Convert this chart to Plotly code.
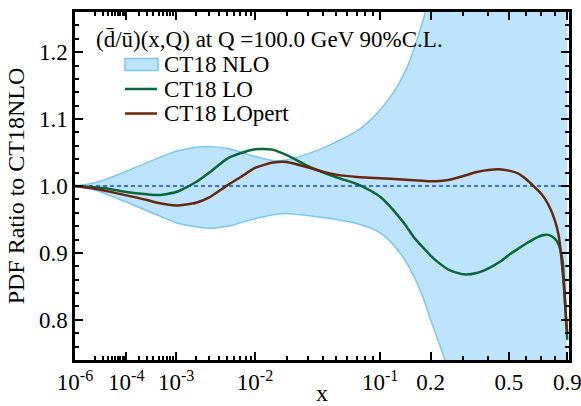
import numpy as np
import plotly.graph_objects as go

# momentum fraction x at which the ratios are tabulated
x_vals = [1e-6, 1e-5, 3e-5, 1e-4, 3e-4, 5e-4, 1e-3, 2e-3, 3e-3, 5e-3, 7e-3,
          0.01, 0.015, 0.02, 0.03, 0.04, 0.05, 0.07, 0.085, 0.1, 0.115, 0.13,
          0.145, 0.16, 0.18, 0.2, 0.225, 0.25, 0.3, 0.35, 0.4, 0.45, 0.5,
          0.55, 0.6, 0.65, 0.7, 0.75, 0.8, 0.83, 0.86, 0.88, 0.89, 0.9]

# CT18 NLO 90% C.L. band, as a ratio to the CT18 NLO central fit
nlo_upper = [1.000, 1.005, 1.011, 1.022, 1.035, 1.042, 1.052, 1.058, 1.059,
             1.056, 1.051, 1.044, 1.038, 1.039, 1.048, 1.057, 1.066, 1.082,
             1.097, 1.114, 1.132, 1.152, 1.175, 1.203, 1.245, 1.290, 1.350,
             1.410, 1.48, 1.52, 1.55, 1.58, 1.60, 1.62, 1.64, 1.66, 1.68,
             1.70, 1.72, 1.73, 1.74, 1.75, 1.75, 1.75]
nlo_lower = [1.000, 0.994, 0.987, 0.976, 0.963, 0.956, 0.945, 0.939, 0.937,
             0.940, 0.945, 0.951, 0.957, 0.959, 0.956, 0.953, 0.950, 0.944,
             0.938, 0.930, 0.918, 0.903, 0.886, 0.866, 0.836, 0.800, 0.762,
             0.725, 0.66, 0.62, 0.59, 0.56, 0.54, 0.52, 0.50, 0.48, 0.46,
             0.44, 0.42, 0.41, 0.40, 0.39, 0.39, 0.39]

# CT18 LO and CT18 LOpert ratios to CT18 NLO
lo_ratio = [1.000, 0.998, 0.996, 0.991, 0.9875, 0.9865, 0.991, 1.006, 1.020,
            1.041, 1.049, 1.055, 1.054, 1.046, 1.030, 1.020, 1.013, 1.003,
            0.994, 0.984, 0.970, 0.955, 0.940, 0.924, 0.909, 0.896, 0.884,
            0.875, 0.868, 0.870, 0.877, 0.886, 0.897, 0.906, 0.914, 0.921,
            0.926, 0.927, 0.921, 0.912, 0.889, 0.830, 0.800, 0.770]
lopert_ratio = [1.000, 0.996, 0.992, 0.986, 0.979, 0.9745, 0.971, 0.975,
                0.983, 1.001, 1.013, 1.027, 1.035, 1.036, 1.028, 1.021,
                1.017, 1.0135, 1.0125, 1.0115, 1.0108, 1.010, 1.0092, 1.0085,
                1.0078, 1.007, 1.0075, 1.009, 1.015, 1.021, 1.024, 1.025,
                1.023, 1.019, 1.010, 0.999, 0.988, 0.972, 0.948, 0.925,
                0.875, 0.830, 0.800, 0.780]

ref_ratio = 1.0

x_tick_vals = [1e-6, 1e-4, 1e-3, 1e-2, 0.1, 0.2, 0.5, 0.9]
x_tick_text = ["10<sup>-6</sup>", "10<sup>-4</sup>", "10<sup>-3</sup>",
               "10<sup>-2</sup>", "10<sup>-1</sup>", "0.2", "0.5", "0.9"]
x_minor_vals = ([1e-5] + [k * 1e-5 for k in range(2, 10)]
                + [k * 1e-4 for k in range(2, 10)]
                + [k * 1e-3 for k in range(2, 10)]
                + [k * 1e-2 for k in range(2, 10)]
                + [0.3, 0.4, 0.6, 0.7, 0.8])
x_limits = [1e-6, 0.915]

y_tick_vals = [0.8, 0.9, 1.0, 1.1, 1.2]
y_tick_text = ["0.8", "0.9", "1.0", "1.1", "1.2"]
y_minor_vals = [round(0.74 + 0.02 * k, 2) for k in range(27)]
y_limits = [0.74, 1.26]

series_names = ["CT18 NLO", "CT18 LO", "CT18 LOpert"]
title_text = "(d\u0304/u\u0304)(x,Q) at Q =100.0 GeV 90%C.L."

# x axis uses an x^0.2 scale
POW = 0.2


def xs(v):
    return np.asarray(v, dtype=float) ** POW


FONT = "Liberation Serif"
BAND_FILL = "rgb(190,228,253)"
BAND_EDGE = "rgb(122,198,246)"
LO_COLOR = "rgb(8,104,56)"
LOPERT_COLOR = "rgb(104,38,10)"
REF_COLOR = "rgb(60,110,230)"

fig = go.Figure()

fig.add_trace(go.Scatter(
    x=xs(x_vals), y=nlo_lower, mode="lines",
    line=dict(color=BAND_EDGE, width=1.5, shape="spline", smoothing=0.8),
    showlegend=False, hoverinfo="skip"))
fig.add_trace(go.Scatter(
    x=xs(x_vals), y=nlo_upper, mode="lines", fill="tonexty",
    fillcolor=BAND_FILL,
    line=dict(color=BAND_EDGE, width=1.5, shape="spline", smoothing=0.8),
    name=series_names[0], showlegend=False))

fig.add_trace(go.Scatter(
    x=xs(x_limits), y=[ref_ratio, ref_ratio], mode="lines",
    line=dict(color=REF_COLOR, width=2, dash="4px,3px"),
    showlegend=False, hoverinfo="skip"))

fig.add_trace(go.Scatter(
    x=xs(x_vals), y=lo_ratio, mode="lines", name=series_names[1],
    line=dict(color=LO_COLOR, width=2.5, shape="spline", smoothing=0.6),
    showlegend=False))
fig.add_trace(go.Scatter(
    x=xs(x_vals), y=lopert_ratio, mode="lines", name=series_names[2],
    line=dict(color=LOPERT_COLOR, width=2.5, shape="spline", smoothing=0.6),
    showlegend=False))

# plot-area geometry (pixels) used to place the key
W, H = 581, 406
ML, MR, MT, MB = 75, 12, 12, 46
PW, PH = W - ML - MR, H - MT - MB


def px(xp):
    return (xp - ML) / PW


def py(yp):
    return (H - MB - yp) / PH


# key: band swatch, two line swatches and their labels
shapes = [
    dict(type="rect", xref="paper", yref="paper",
         x0=px(125), x1=px(158), y0=py(70.5), y1=py(58.5),
         fillcolor=BAND_FILL, line=dict(color=BAND_EDGE, width=1.5)),
    dict(type="line", xref="paper", yref="paper",
         x0=px(125), x1=px(157), y0=py(89), y1=py(89),
         line=dict(color=LO_COLOR, width=2.5)),
    dict(type="line", xref="paper", yref="paper",
         x0=px(125), x1=px(157), y0=py(113.5), y1=py(113.5),
         line=dict(color=LOPERT_COLOR, width=2.5)),
]
annotations = [
    dict(text=title_text, xref="paper", yref="paper", x=px(94), y=py(39),
         xanchor="left", yanchor="middle", showarrow=False,
         font=dict(family=FONT, size=23, color="black")),
]
for name, yrow in zip(series_names, [64.5, 89, 113.5]):
    annotations.append(dict(
        text=name, xref="paper", yref="paper", x=px(162), y=py(yrow),
        xanchor="left", yanchor="middle", showarrow=False,
        font=dict(family=FONT, size=23, color="black")))

axis_common = dict(
    showline=True, linecolor="black", linewidth=2.5, mirror="ticks",
    ticks="inside", ticklen=8, tickwidth=2, tickcolor="black",
    showgrid=False, zeroline=False, automargin=False,
    ticklabeloverflow="allow",
    tickfont=dict(family=FONT, size=23, color="black"),
)

fig.update_layout(
    width=W, height=H,
    margin=dict(l=ML, r=MR, t=MT, b=MB),
    paper_bgcolor="white", plot_bgcolor="white",
    showlegend=False,
    shapes=shapes, annotations=annotations,
    xaxis=dict(
        range=list(xs(x_limits)),
        tickmode="array", tickvals=list(xs(x_tick_vals)), ticktext=x_tick_text,
        minor=dict(tickmode="array", tickvals=list(xs(x_minor_vals)),
                   ticks="inside", ticklen=4, tickwidth=1.5,
                   tickcolor="black"),
        title=dict(text="x", font=dict(family=FONT, size=24, color="black"),
                   standoff=0),
        **axis_common),
    yaxis=dict(
        range=y_limits,
        tickmode="array", tickvals=y_tick_vals, ticktext=y_tick_text,
        minor=dict(tickmode="array", tickvals=y_minor_vals,
                   ticks="inside", ticklen=4, tickwidth=1.5,
                   tickcolor="black"),
        title=dict(text="PDF Ratio to CT18NLO",
                   font=dict(family=FONT, size=24, color="black"),
                   standoff=8),
        **axis_common),
)

fig.write_html("out.html")
